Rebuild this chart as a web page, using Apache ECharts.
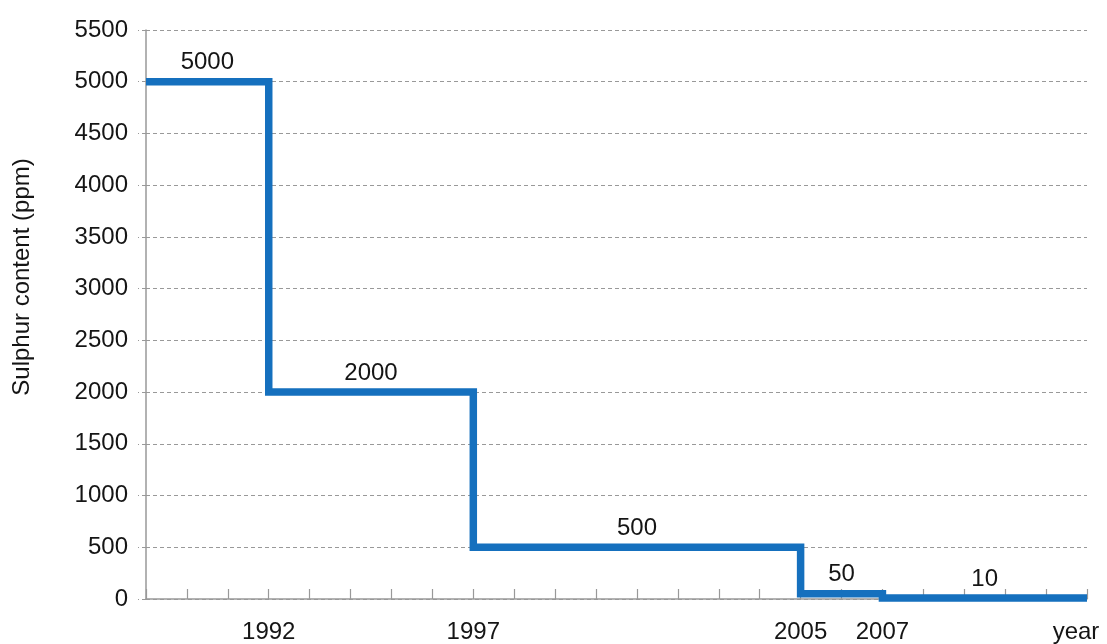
<!DOCTYPE html>
<html>
<head>
<meta charset="utf-8">
<script src="https://cdn.jsdelivr.net/npm/echarts@6/dist/echarts.min.js"></script>
<style>html,body{margin:0;padding:0;background:#fff}#c{width:1107px;height:644px}</style>
</head>
<body>
<div id="c"></div>
<script>
// Years at which each sulphur limit starts, and the final year of the axis
const stepYears = [1989, 1992, 1997, 2005, 2007];
const endYear = 2012;
// Sulphur content limit (ppm) for each period
const sulphurValues = [5000, 2000, 500, 50, 10];
// Labelled years on the x axis
const yearLabels = [1992, 1997, 2005, 2007];
const yTicks = [0, 500, 1000, 1500, 2000, 2500, 3000, 3500, 4000, 4500, 5000, 5500];

const stepData = stepYears.map((y, i) => [y, sulphurValues[i]]);
stepData.push([endYear, sulphurValues[sulphurValues.length - 1]]);
const labelData = stepYears.map((y, i) => {
  const next = i + 1 < stepYears.length ? stepYears[i + 1] : endYear;
  return [(y + next) / 2, sulphurValues[i]];
});

const FONT = 'Liberation Sans, Arial, sans-serif';
const TXT = '#151515';
const chart = echarts.init(document.getElementById('c'));
chart.setOption({
  animation: false,
  grid: { left: 146, right: 20, top: 30, bottom: 45 },
  xAxis: {
    type: 'value', min: 1989, max: endYear, interval: 1,
    axisLine: { lineStyle: { color: '#999', width: 1.5 } },
    axisTick: { inside: true, length: 10, lineStyle: { color: '#999', width: 1.2 } },
    splitLine: { show: false },
    axisLabel: {
      margin: 21, color: TXT, fontFamily: FONT, fontSize: 24,
      showMinLabel: true, showMaxLabel: true,
      formatter: v => v === endYear ? '{y|year}' : (yearLabels.includes(v) ? String(v) : ''),
      rich: { y: { fontFamily: FONT, fontSize: 24, color: TXT, padding: [0, 22, 0, 0] } }
    }
  },
  yAxis: {
    type: 'value', min: yTicks[0], max: yTicks[yTicks.length - 1], interval: 500,
    axisLine: { show: true, lineStyle: { color: '#999', width: 1.5 } },
    axisTick: { show: true, length: 8, lineStyle: { color: '#999', type: [4, 3] } },
    splitLine: { lineStyle: { color: '#999', type: [4, 3], width: 1 } },
    axisLabel: { margin: 18, color: TXT, fontFamily: FONT, fontSize: 24, formatter: v => String(v) }
  },
  graphic: [{
    type: 'text', x: 22, y: 277, rotation: Math.PI / 2,
    style: { text: 'Sulphur content (ppm)', fontFamily: FONT, fontSize: 24, fill: TXT,
      textAlign: 'center', textVerticalAlign: 'middle' }
  }],
  series: [{
    type: 'line', step: 'end', data: stepData, symbol: 'none',
    lineStyle: { color: '#1570be', width: 7.5, join: 'miter', cap: 'butt' },
    z: 3
  }, {
    type: 'scatter', data: labelData, symbolSize: 0,
    itemStyle: { opacity: 1 },
    label: { show: true, position: 'top', distance: 7, color: TXT, fontFamily: FONT, fontSize: 24,
      formatter: p => String(p.value[1]) },
    z: 4
  }]
});
</script>
</body>
</html>
